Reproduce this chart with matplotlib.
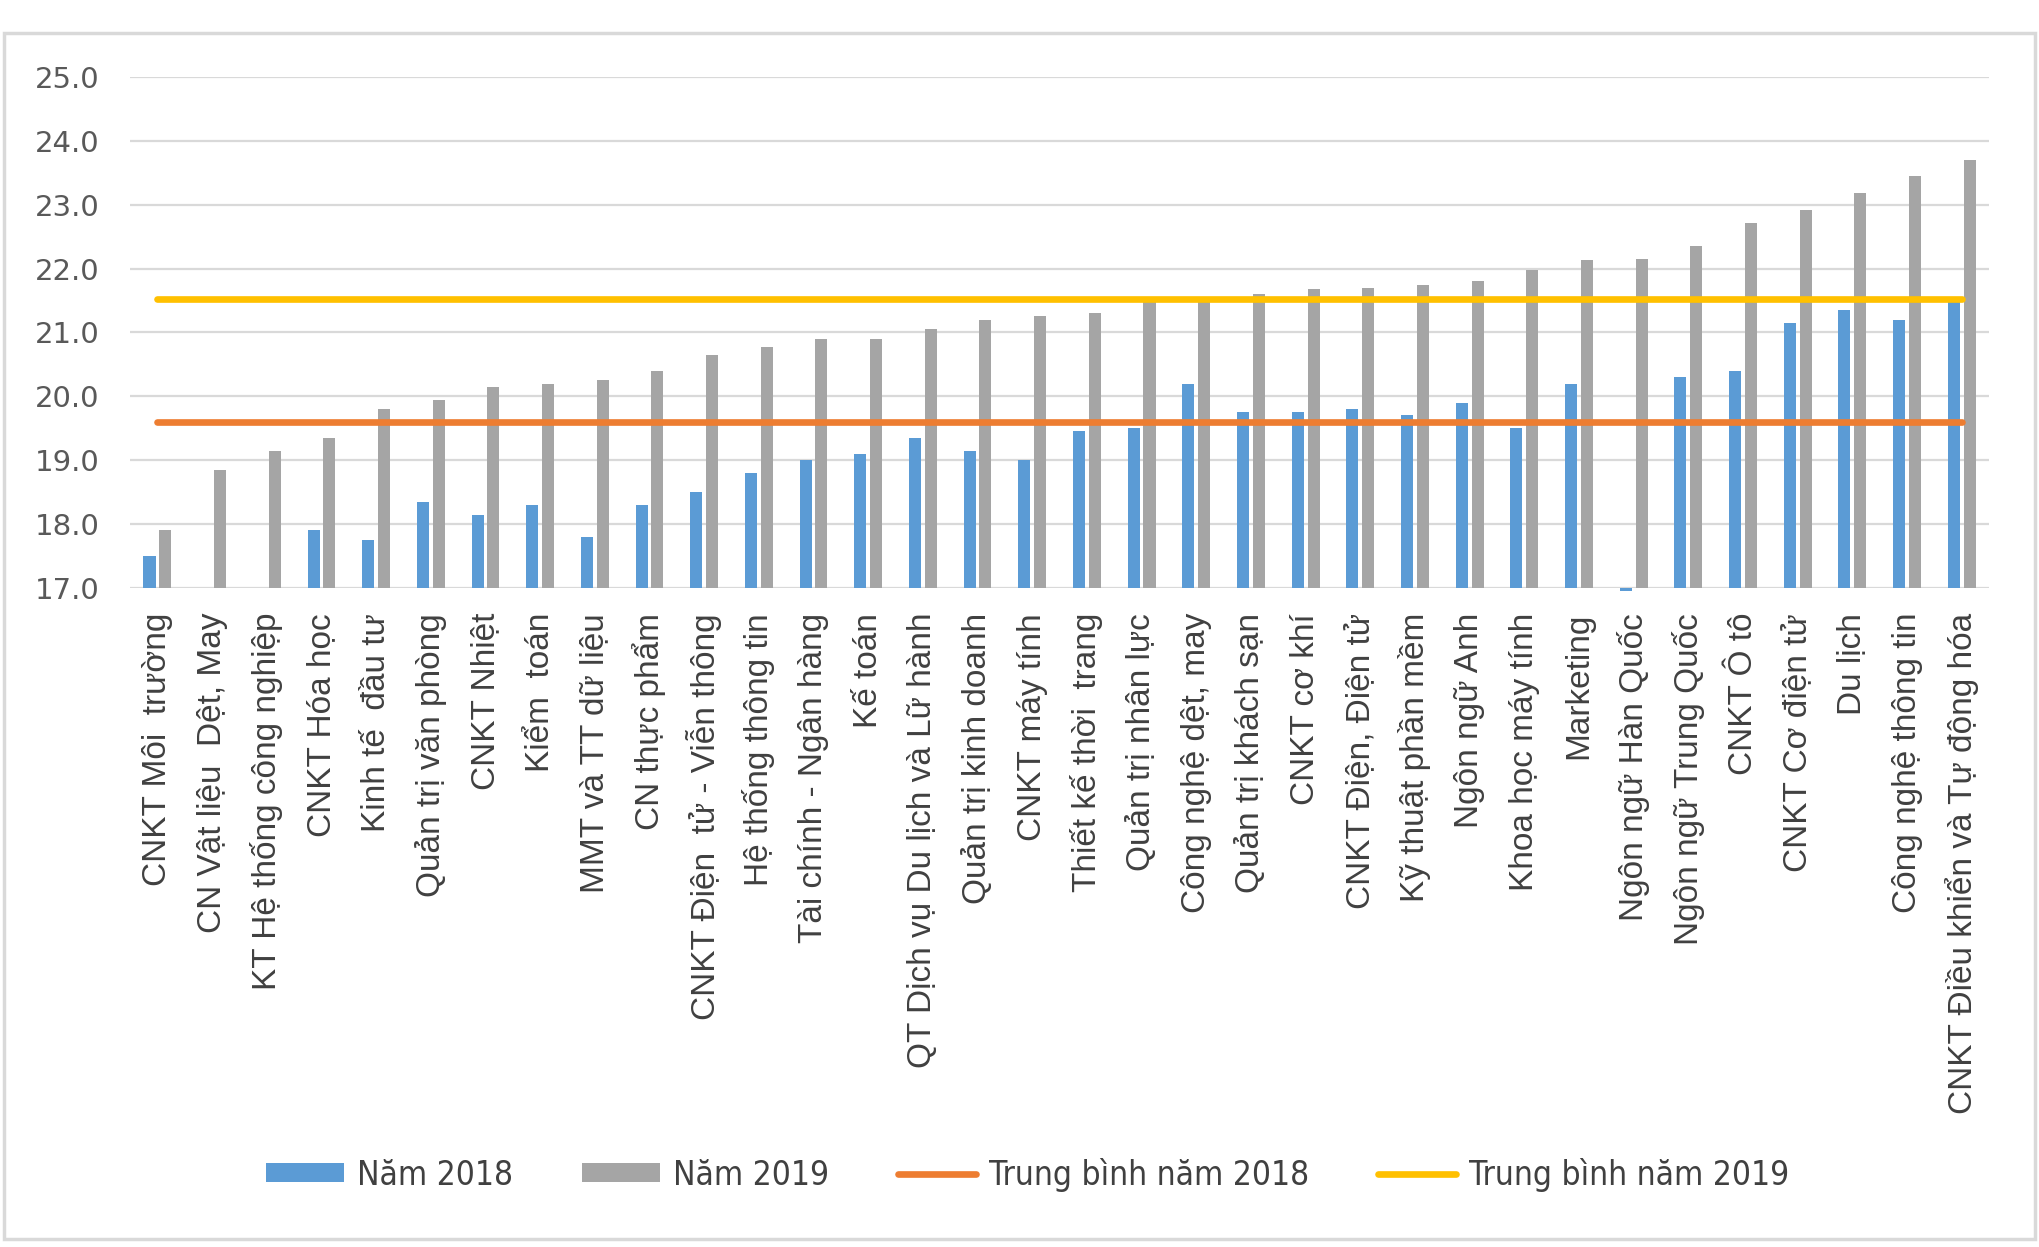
import matplotlib
matplotlib.use('Agg')
import matplotlib.pyplot as plt
import numpy as np
from matplotlib import font_manager
from matplotlib.patches import Rectangle, Patch
from matplotlib.lines import Line2D

categories = [
    "CNKT Môi  trường", "CN Vật liệu  Dệt, May", "KT Hệ thống công nghiệp", "CNKT Hóa học",
    "Kinh tế  đầu tư", "Quản trị văn phòng", "CNKT Nhiệt", "Kiểm  toán",
    "MMT và TT dữ liệu", "CN thực phẩm", "CNKT Điện  tử - Viễn thông", "Hệ thống thông tin",
    "Tài chính - Ngân hàng", "Kế toán", "QT Dịch vụ Du lịch và Lữ hành", "Quản trị kinh doanh",
    "CNKT máy tính", "Thiết kế thời  trang", "Quản trị nhân lực", "Công nghệ dệt, may",
    "Quản trị khách sạn", "CNKT cơ khí", "CNKT Điện, Điện tử", "Kỹ thuật phần mềm",
    "Ngôn ngữ Anh", "Khoa học máy tính", "Marketing", "Ngôn ngữ Hàn Quốc",
    "Ngôn ngữ Trung Quốc", "CNKT Ô tô", "CNKT Cơ điện tử", "Du lịch",
    "Công nghệ thông tin", "CNKT Điều khiển và Tự động hóa",
]
nam_2018 = [17.5, np.nan, np.nan, 17.9, 17.75, 18.35, 18.15, 18.3,
            17.8, 18.3, 18.5, 18.8, 19.0, 19.1, 19.35, 19.15,
            19.0, 19.45, 19.5, 20.2, 19.75, 19.75, 19.8, 19.7,
            19.9, 19.5, 20.2, 16.95, 20.3, 20.4, 21.15, 21.35,
            21.2, 21.5]
nam_2019 = [17.9, 18.85, 19.15, 19.35, 19.8, 19.95, 20.15, 20.2,
            20.25, 20.4, 20.65, 20.78, 20.9, 20.9, 21.05, 21.2,
            21.25, 21.3, 21.5, 21.5, 21.6, 21.68, 21.7, 21.75,
            21.8, 21.98, 22.13, 22.15, 22.35, 22.72, 22.92, 23.18,
            23.45, 23.7]
tb_2018 = 19.6
tb_2019 = 21.52
y_ticks = [17.0, 18.0, 19.0, 20.0, 21.0, 22.0, 23.0, 24.0, 25.0]
legend_labels = ["Năm 2018", "Năm 2019", "Trung bình năm 2018", "Trung bình năm 2019"]

C_BLUE = '#5B9BD5'
C_GRAY = '#A5A5A5'
C_ORANGE = '#ED7D31'
C_YELLOW = '#FFC000'
C_GRID = '#D9D9D9'

names = {f.name for f in font_manager.fontManager.ttflist}
if 'Liberation Sans Narrow' in names:
    leg_font = dict(family='Liberation Sans Narrow', size=31)
else:
    leg_font = dict(family='DejaVu Sans', size=24, stretch='condensed')
cat_family = 'Liberation Sans' if 'Liberation Sans' in names else 'DejaVu Sans'

fig = plt.figure(figsize=(20.39, 12.47), dpi=100)
ax = fig.add_axes([0.0638, 0.5285, 0.9117, 0.4098])

n = len(categories)
x = np.arange(n)
base = y_ticks[0]
h18 = np.array(nam_2018) - base
h19 = np.array(nam_2019) - base
ax.bar(x - 0.145, h18, bottom=base, width=0.22, color=C_BLUE, zorder=2, clip_on=False)
ax.bar(x + 0.145, h19, bottom=base, width=0.22, color=C_GRAY, zorder=2, clip_on=False)
ax.plot(x, [tb_2018] * n, color=C_ORANGE, lw=4.8, solid_capstyle='round', zorder=3)
ax.plot(x, [tb_2019] * n, color=C_YELLOW, lw=4.8, solid_capstyle='round', zorder=3)

ax.set_xlim(-0.5, n - 0.5)
ax.set_ylim(y_ticks[0], y_ticks[-1])
ax.set_yticks(y_ticks)
ax.set_yticklabels([f"{v:.1f}" for v in y_ticks], fontsize=21, color='#595959', family='DejaVu Sans')
ax.set_xticks(x)
ax.set_xticklabels(categories, rotation=90, fontsize=24, color='#404040', family=cat_family)
ax.tick_params(axis='both', length=0)
ax.tick_params(axis='y', pad=22)
ax.tick_params(axis='x', pad=18)
for s in ax.spines.values():
    s.set_visible(False)
ax.yaxis.grid(True, color=C_GRID, lw=1.6, zorder=0)
ax.set_axisbelow(True)

handles = [
    Patch(facecolor=C_BLUE, edgecolor='none'),
    Patch(facecolor=C_GRAY, edgecolor='none'),
    Line2D([0], [0], color=C_ORANGE, lw=4.8, solid_capstyle='round'),
    Line2D([0], [0], color=C_YELLOW, lw=4.8, solid_capstyle='round'),
]
fig.legend(handles, legend_labels, loc='center', bbox_to_anchor=(0.504, 0.058), ncol=4,
           frameon=False, prop=leg_font, handlelength=2.35, handleheight=0.5,
           handletextpad=0.4, columnspacing=2.05, labelcolor='#404040')

fig.patches.append(Rectangle((0.002, 0.0064), 0.996, 0.967, transform=fig.transFigure,
                             fill=False, edgecolor=C_GRID, lw=2.5, zorder=0))

fig.savefig('out.png', dpi=100, facecolor='white')
